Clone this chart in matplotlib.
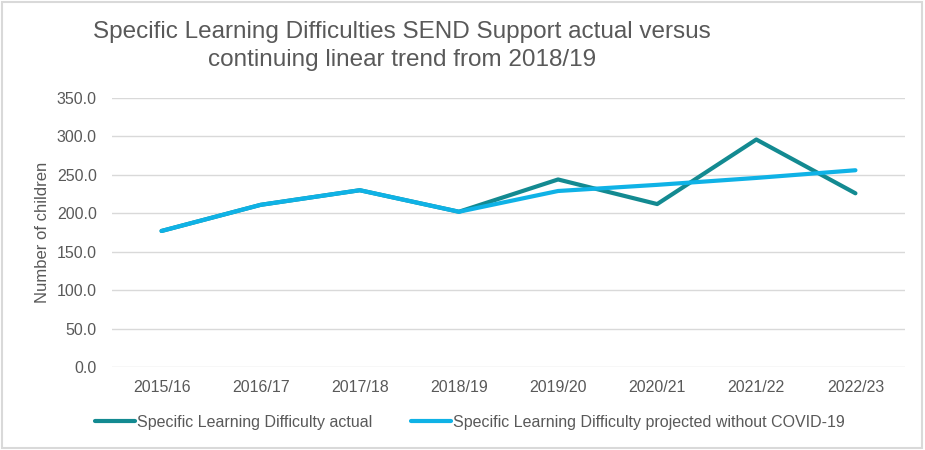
import matplotlib
matplotlib.use("Agg")
import matplotlib.pyplot as plt
from matplotlib.patches import Rectangle

years = ["2015/16", "2016/17", "2017/18", "2018/19", "2019/20", "2020/21", "2021/22", "2022/23"]
actual = [177, 211, 230, 202, 244, 212, 296, 226]
projected = [177, 211, 230, 202, 229, 237, 246, 256]

plt.rcParams['font.family'] = ['Liberation Sans', 'DejaVu Sans']
grey = '#595959'

fig = plt.figure(figsize=(9.25, 4.5), dpi=100)
ax = fig.add_axes([112 / 925, 1 - 367 / 450, (905 - 112) / 925, (367 - 98) / 450])

x = range(len(years))
ax.plot(x, actual, color='#138A91', lw=3, solid_capstyle='round',
        label='Specific Learning Difficulty actual')
ax.plot(x, projected, color='#0FB2E6', lw=3, solid_capstyle='round',
        label='Specific Learning Difficulty projected without COVID-19')

ax.set_xlim(-0.5, len(years) - 0.5)
ax.set_ylim(0, 350)
ax.set_yticks(range(0, 351, 50))
ax.set_yticklabels([f"{v:.1f}" for v in range(0, 351, 50)])
ax.set_xticks(list(x))
ax.set_xticklabels(years)
ax.tick_params(length=0, colors=grey, labelsize=11.5)
ax.tick_params(axis='x', pad=9)
ax.tick_params(axis='y', pad=11)
ax.grid(axis='y', color='#D9D9D9', lw=1)
ax.set_axisbelow(True)
for s in ax.spines.values():
    s.set_visible(False)
ax.set_ylabel('Number of children', color=grey, fontsize=12, labelpad=5)

fig.text(402 / 925, 1 - 46 / 450, "Specific Learning Difficulties SEND Support actual versus\ncontinuing linear trend from 2018/19",
         ha='center', va='center', color=grey, fontsize=17.5, linespacing=1.4)

fig.legend(loc='center', bbox_to_anchor=(470 / 925, 1 - 422 / 450), ncol=2, frameon=False,
           fontsize=11.5, labelcolor=grey, handlelength=2.5, handletextpad=0.15, columnspacing=2.4)

fig.patches.append(Rectangle((0.002, 0.004), 0.995, 0.992, transform=fig.transFigure,
                             fill=False, edgecolor='#D9D9D9', lw=1.5))

fig.savefig('out.png', dpi=100)
